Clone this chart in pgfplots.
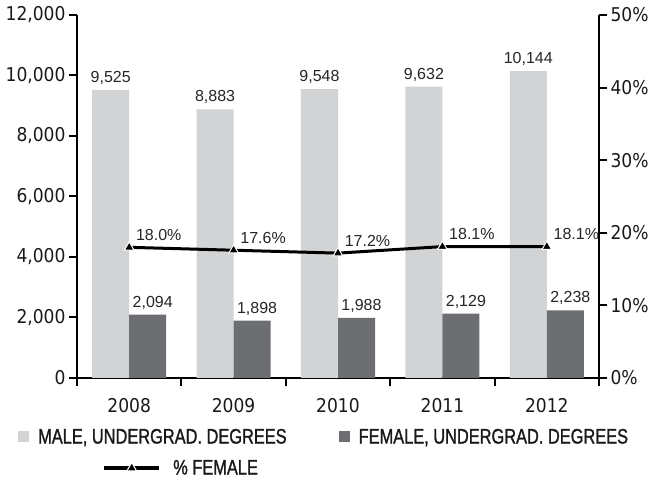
\documentclass[border=0pt]{standalone}
\usepackage{fontspec}
\setmainfont{Liberation Sans}
\newfontfamily\condfont[FakeStretch=0.78,FakeBold=1.2]{Liberation Sans}
\newfontfamily\tickfont[FakeStretch=0.9]{DejaVu Sans}
\usepackage{pgfplots}
\pgfplotsset{compat=1.18}
\definecolor{malegray}{HTML}{D1D3D4}
\definecolor{femalegray}{HTML}{6D6E71}
\pgfkeys{/pgf/number format/.cd,1000 sep={,},assume math mode=true}
\begin{document}
\begin{tikzpicture}
\useasboundingbox (-77pt,-103pt) rectangle (579pt,378pt);
\begin{axis}[
  width=522pt, height=363pt, scale only axis,
  xmin=-0.5, xmax=4.5, ymin=0, ymax=12000,
  axis x line*=bottom, axis y line*=left,
  axis line style={line width=2.4pt, black},
  major tick style={line width=2pt, black}, major tick length=8pt, tick align=outside,
  xtick={-0.5,0.5,1.5,2.5,3.5,4.5},
  xticklabels={2008,2009,2010,2011,2012},
  x tick label as interval,
  xticklabel style={yshift=-9pt},
  ytick={0,2000,4000,6000,8000,10000,12000},
  scaled y ticks=false,
  ticklabel style={font=\tickfont\fontsize{19}{20}\selectfont, text=black!90},
  ybar=0pt, bar width=37pt,
  clip=false,
  nodes near coords,
  nodes near coords style={font=\fontsize{16}{18}\selectfont, yshift=2pt, text=black!85},
  legend columns=2,
  legend cell align=left,
  legend style={at={(-0.113,-0.1625)}, anchor=west, draw=none, fill=none, inner sep=0pt,
    font=\condfont\fontsize{21}{22}\selectfont, text=black!90,
    /tikz/every odd column/.append style={column sep=7pt},
    /tikz/every even column/.append style={column sep=50pt}},
  legend image code/.code={\fill[#1] (0pt,-5.5pt) rectangle (11pt,5.5pt);},
]
\addplot[fill=malegray, draw=none] coordinates {(0,9525) (1,8883) (2,9548) (3,9632) (4,10144)};
\addlegendentry{MALE, UNDERGRAD. DEGREES}
\addplot[fill=femalegray, draw=none, nodes near coords style={xshift=5pt}] coordinates {(0,2094) (1,1898) (2,1988) (3,2129) (4,2238)};
\addlegendentry{FEMALE, UNDERGRAD. DEGREES}
\end{axis}
\begin{axis}[
  width=522pt, height=363pt, scale only axis,
  xmin=-0.5, xmax=4.5, ymin=0, ymax=50,
  axis x line=none, axis y line*=right,
  axis line style={line width=2.4pt, black},
  major tick style={line width=2pt, black}, major tick length=8pt, tick align=outside,
  ytick={0,10,20,30,40,50},
  yticklabel={\pgfmathprintnumber{\tick}\%},
  ticklabel style={font=\tickfont\fontsize{19}{20}\selectfont, text=black!90},
  clip=false,
  legend style={at={(0.048,-0.248)}, anchor=west, draw=none, fill=none, inner sep=0pt,
    font=\condfont\fontsize{21}{22}\selectfont, text=black!90,
    /tikz/every odd column/.append style={column sep=10pt}},
  legend image code/.code={\draw[mark repeat=2,mark phase=2,#1,line width=4pt] plot coordinates {(0pt,0pt)(27.5pt,0pt)(55pt,0pt)};},
]
\addplot[black, line width=3pt, mark=triangle*, mark size=5.5pt,
  mark options={fill=black, draw=white, line width=1pt, solid},
  point meta=y,
  nodes near coords={\pgfmathprintnumber[fixed,fixed zerofill,precision=1]{\pgfplotspointmeta}\%},
  nodes near coords style={font=\fontsize{16}{18}\selectfont, anchor=south west, xshift=3pt, yshift=3pt, text=black!85}]
  coordinates {(0,18.0) (1,17.6) (2,17.2) (3,18.1) (4,18.1)};
\addlegendentry{\% FEMALE}
\end{axis}
\end{tikzpicture}
\end{document}
